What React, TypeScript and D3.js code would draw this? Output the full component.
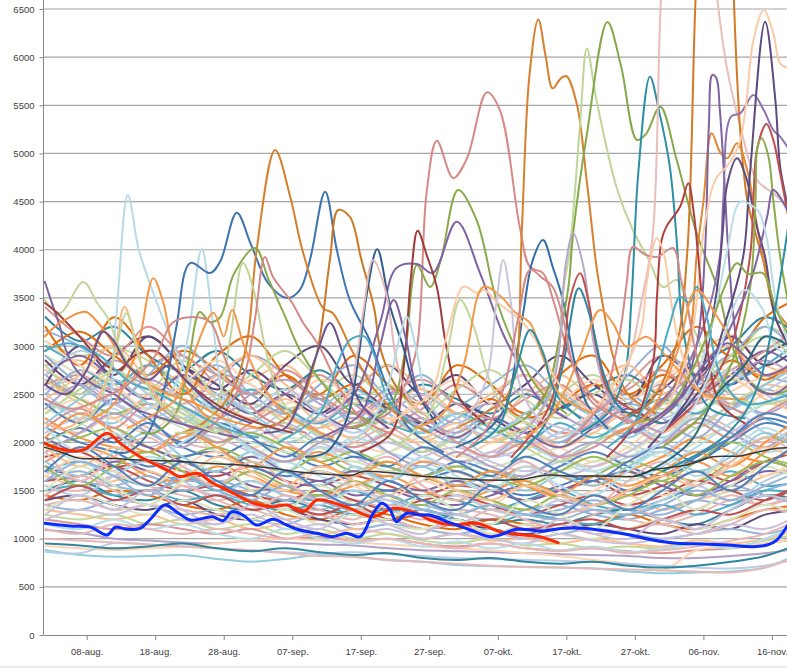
import { useEffect, useRef } from 'react'
import * as d3 from 'd3'

type Pt = [number, number]

// day numbers count from 1 = 01-aug.
const BASE = Date.UTC(2014, 7, 1)
const DAY_MS = 864e5
const toDate = (d: number) => new Date(BASE + (d - 1) * DAY_MS)

const Y_TICKS = [0, 500, 1000, 1500, 2000, 2500, 3000, 3500, 4000, 4500, 5000, 5500, 6000, 6500]
const X_TICK_DAYS = [8, 18, 28, 38, 48, 58, 68, 78, 88, 98, 108]
const X_TICK_LABELS = ['08-aug.', '18-aug.', '28-aug.', '07-sep.', '17-sep.', '27-sep.', '07-okt.', '17-okt.', '27-okt.', '06-nov.', '16-nov.']

// background band, one value every 5 days
const BG_DAYS = [2, 7, 12, 17, 22, 27, 32, 37, 42, 47, 52, 57, 62, 67, 72, 77, 82, 87, 92, 97, 102, 107, 112]
const BG_SERIES: number[][] = [
  [3160, 3000, 2750, 2600, 2500, 2700, 2600, 2300, 2200, 2450, 2300, 2100, 2250, 2400, 2200, 2000, 2300, 2500, 2300, 2600, 2900, 2700, 2600],
  [2800, 2850, 2700, 2950, 2700, 2500, 2650, 2800, 2500, 2300, 2400, 2550, 2300, 2200, 2500, 2700, 2450, 2300, 2600, 2900, 3100, 2800, 2700],
  [3050, 2900, 2980, 2850, 2600, 2400, 2550, 2350, 2500, 2700, 2400, 2200, 2300, 2100, 2300, 2500, 2700, 2400, 2200, 2500, 2800, 3200, 3000],
  [2600, 2700, 2550, 2800, 2900, 2600, 2300, 2500, 2700, 2400, 2200, 2350, 2600, 2400, 2300, 2100, 2200, 2600, 2900, 2700, 2400, 2600, 2800],
  [2700, 2500, 2850, 2600, 2400, 2650, 2900, 2700, 2400, 2300, 2550, 2400, 2200, 2450, 2700, 2400, 2200, 2100, 2400, 2700, 2500, 2300, 2500],
  [2400, 2300, 2200, 2450, 2300, 2100, 2250, 2000, 2150, 2300, 2050, 1900, 2100, 2250, 2000, 1850, 2000, 2200, 2050, 2300, 2450, 2250, 2100],
  [2300, 2450, 2250, 2100, 2350, 2200, 1950, 2100, 2250, 2000, 1900, 2050, 1850, 2000, 2150, 1950, 1800, 1950, 2200, 2050, 2200, 2500, 2400],
  [2500, 2300, 2400, 2200, 2050, 2250, 2100, 2300, 2050, 1950, 2100, 1900, 2050, 1850, 1950, 2100, 2250, 2000, 1900, 2150, 2350, 2100, 2000],
  [2200, 2100, 2300, 2150, 2000, 1950, 2150, 2000, 1850, 2000, 2150, 1950, 1800, 1900, 2050, 1850, 1750, 1900, 2100, 2300, 2150, 2000, 2200],
  [2350, 2200, 2050, 2250, 2150, 1900, 1850, 2050, 1950, 1800, 1900, 2050, 1900, 1750, 1850, 1950, 2100, 1950, 1850, 2000, 2200, 2400, 2300],
  [2100, 2250, 2150, 1950, 2100, 2050, 1900, 1800, 1950, 1850, 1700, 1850, 1950, 1800, 1700, 1800, 1950, 2150, 2000, 1900, 2100, 2300, 2200],
  [2450, 2250, 2350, 2100, 2250, 2000, 2100, 1900, 1850, 2050, 1900, 1800, 1700, 1850, 2000, 1800, 1700, 1850, 2000, 2200, 2100, 1900, 2000],
  [2000, 2150, 2000, 2200, 1950, 1850, 2000, 1900, 1750, 1850, 1750, 1650, 1800, 1700, 1600, 1750, 1900, 1750, 1650, 1800, 2000, 2200, 2100],
  [2250, 2050, 1950, 1900, 2050, 2150, 1950, 1800, 1900, 1750, 1650, 1800, 1700, 1600, 1750, 1650, 1550, 1700, 1850, 2050, 1900, 1800, 2000],
  [1950, 2050, 2150, 1950, 1850, 1950, 1800, 1700, 1850, 1700, 1800, 1650, 1550, 1700, 1600, 1500, 1650, 1800, 1700, 1600, 1800, 2050, 1950],
  [1850, 1900, 1750, 1800, 1700, 1650, 1750, 1600, 1550, 1650, 1550, 1450, 1550, 1500, 1400, 1500, 1600, 1450, 1550, 1700, 1600, 1800, 1900],
  [1750, 1650, 1800, 1700, 1600, 1700, 1550, 1500, 1600, 1450, 1500, 1400, 1350, 1450, 1550, 1400, 1350, 1500, 1600, 1450, 1550, 1700, 1650],
  [1700, 1800, 1650, 1550, 1650, 1500, 1600, 1450, 1400, 1500, 1350, 1450, 1400, 1300, 1400, 1500, 1350, 1300, 1400, 1550, 1700, 1550, 1600],
  [1650, 1550, 1600, 1700, 1550, 1450, 1500, 1550, 1400, 1350, 1450, 1300, 1250, 1350, 1300, 1250, 1350, 1450, 1300, 1400, 1500, 1650, 1750],
  [1600, 1700, 1550, 1500, 1600, 1550, 1400, 1350, 1450, 1400, 1300, 1350, 1250, 1200, 1300, 1350, 1250, 1200, 1300, 1400, 1350, 1500, 1600],
  [1550, 1500, 1650, 1550, 1450, 1400, 1450, 1350, 1300, 1400, 1300, 1200, 1300, 1250, 1150, 1250, 1300, 1200, 1150, 1250, 1400, 1350, 1450],
  [1500, 1600, 1450, 1400, 1500, 1350, 1300, 1400, 1300, 1250, 1200, 1300, 1200, 1150, 1200, 1150, 1250, 1300, 1200, 1150, 1300, 1450, 1400],
  [1450, 1400, 1500, 1450, 1350, 1300, 1400, 1250, 1200, 1300, 1250, 1150, 1100, 1200, 1150, 1100, 1150, 1250, 1150, 1100, 1200, 1300, 1350],
  [1400, 1450, 1350, 1300, 1400, 1250, 1200, 1300, 1200, 1150, 1200, 1100, 1150, 1100, 1050, 1100, 1150, 1100, 1050, 1150, 1100, 1250, 1300],
  [1350, 1300, 1400, 1350, 1250, 1300, 1200, 1150, 1250, 1100, 1150, 1100, 1050, 1100, 1000, 1050, 1100, 1050, 1000, 1050, 1100, 1050, 1150],
  [1300, 1250, 1200, 1250, 1150, 1200, 1100, 1150, 1050, 1100, 1050, 1000, 1050, 980, 1000, 950, 1000, 950, 920, 980, 950, 1000, 1100],
  [1250, 1200, 1250, 1150, 1200, 1100, 1150, 1050, 1100, 1000, 1050, 980, 950, 1000, 930, 950, 900, 920, 900, 950, 920, 980, 1050],
  [1200, 1150, 1100, 1150, 1100, 1050, 1100, 1000, 1020, 980, 1000, 950, 920, 950, 900, 880, 900, 870, 850, 880, 900, 950, 1000],
  [1090, 1060, 1000, 980, 960, 950, 980, 960, 940, 930, 900, 880, 870, 860, 850, 840, 830, 820, 800, 800, 820, 850, 900],
  [882, 830, 813, 820, 830, 790, 761, 790, 830, 810, 779, 760, 727, 715, 709, 700, 690, 660, 641, 650, 660, 700, 850],
  [924, 900, 882, 900, 917, 950, 986, 1000, 980, 960, 940, 920, 900, 880, 850, 820, 779, 740, 675, 880, 917, 950, 1000],
  [865, 850, 955, 940, 920, 900, 880, 860, 850, 860, 840, 820, 800, 790, 780, 770, 760, 740, 720, 700, 690, 720, 800],
  [1000, 980, 960, 940, 920, 900, 880, 850, 820, 813, 780, 760, 740, 720, 706, 700, 690, 680, 670, 660, 650, 700, 820],
  [2900, 2700, 2500, 2300, 2200, 2100, 2000, 1900, 1850, 1800, 1700, 1650, 1600, 1550, 1600, 1700, 1800, 1900, 2100, 2300, 2600, 2900, 3200],
  [2550, 2650, 2400, 2250, 2350, 2150, 2050, 2200, 2000, 1900, 2000, 1850, 1750, 1900, 1800, 1650, 1750, 1900, 2150, 2400, 2700, 2500, 2300],
  [1950, 1800, 1700, 1850, 1750, 1600, 1700, 1800, 1650, 1550, 1650, 1750, 1600, 1500, 1650, 1800, 1700, 1600, 1750, 1950, 2200, 2400, 2600],
  [2150, 2000, 1900, 1750, 1850, 1900, 1750, 1650, 1700, 1600, 1500, 1600, 1700, 1550, 1450, 1550, 1650, 1500, 1650, 1850, 2050, 2250, 2150],
  [1800, 1950, 1850, 1650, 1600, 1750, 1650, 1500, 1450, 1550, 1650, 1500, 1400, 1500, 1600, 1450, 1350, 1500, 1650, 1800, 1650, 1900, 2100],
  [2650, 2450, 2300, 2400, 2200, 2000, 2100, 1950, 1800, 1900, 1750, 1650, 1750, 1650, 1550, 1700, 1850, 1700, 1600, 1800, 2000, 1850, 1750],
  [1600, 1650, 1750, 1600, 1500, 1550, 1450, 1400, 1500, 1400, 1300, 1400, 1450, 1350, 1250, 1350, 1450, 1350, 1450, 1600, 1500, 1400, 1550],
  [2050, 1900, 2050, 1950, 1800, 1700, 1850, 1700, 1600, 1700, 1600, 1500, 1600, 1500, 1400, 1500, 1600, 1700, 1550, 1450, 1600, 1800, 1700],
  [1500, 1550, 1450, 1500, 1400, 1450, 1350, 1300, 1350, 1250, 1300, 1250, 1200, 1150, 1250, 1200, 1150, 1250, 1350, 1250, 1350, 1500, 1450],
  [2750, 2600, 2650, 2450, 2550, 2300, 2400, 2250, 2150, 2250, 2100, 2000, 2150, 2050, 1950, 2050, 2200, 2100, 2300, 2500, 2350, 2600, 2500],
  [1700, 1600, 1550, 1650, 1500, 1600, 1500, 1400, 1450, 1350, 1400, 1300, 1250, 1350, 1250, 1300, 1400, 1300, 1250, 1400, 1550, 1450, 1350],
  [1350, 1400, 1300, 1350, 1300, 1250, 1300, 1200, 1250, 1150, 1200, 1100, 1150, 1050, 1100, 1150, 1050, 1100, 1150, 1050, 1150, 1300, 1250],
  [3300, 3050, 3200, 2900, 2750, 2950, 2700, 2550, 2750, 2500, 2400, 2600, 2450, 2300, 2500, 2350, 2550, 2700, 2500, 2800, 3000, 3300, 3100],
  [2950, 3150, 2900, 2700, 2950, 2750, 2500, 2700, 2450, 2600, 2350, 2500, 2300, 2450, 2250, 2400, 2600, 2450, 2700, 2550, 2850, 2650, 2900],
  [2850, 2600, 2900, 3100, 2800, 2550, 2750, 2500, 2300, 2550, 2350, 2200, 2400, 2250, 2100, 2350, 2500, 2300, 2550, 2800, 2600, 2900, 3100],
  [2500, 2750, 2550, 2350, 2600, 2800, 2500, 2300, 2450, 2200, 2350, 2150, 2000, 2250, 2100, 2000, 2200, 2400, 2250, 2050, 2350, 2550, 2400],
  [2650, 2400, 2250, 2500, 2700, 2450, 2250, 2450, 2200, 2050, 2250, 2050, 2200, 2000, 2150, 1950, 2100, 2300, 2100, 2400, 2650, 2450, 2300],
  [2300, 2550, 2750, 2500, 2300, 2150, 2400, 2200, 2000, 2200, 2050, 1900, 2050, 2200, 1950, 1800, 2000, 2150, 2350, 2150, 2400, 2600, 2800],
  [2150, 2350, 2150, 2400, 2200, 2000, 2200, 2350, 2100, 1950, 2100, 2250, 2000, 1850, 2000, 1850, 1950, 2150, 2000, 2200, 2050, 2300, 2500],
  [1900, 2100, 2300, 2100, 1950, 2150, 1950, 1800, 2000, 2150, 1900, 1750, 1900, 1750, 1650, 1850, 2000, 1850, 2000, 2250, 2100, 1950, 2200],
  [1800, 1650, 1900, 2100, 1850, 1700, 1900, 1700, 1550, 1750, 1600, 1750, 1550, 1650, 1500, 1650, 1550, 1750, 1900, 1700, 1850, 2100, 1900],
  [1650, 1850, 1700, 1550, 1750, 1900, 1650, 1500, 1700, 1550, 1400, 1600, 1450, 1350, 1550, 1400, 1500, 1650, 1450, 1600, 1800, 1650, 1850],
  [1550, 1450, 1650, 1800, 1600, 1450, 1600, 1450, 1350, 1500, 1400, 1300, 1450, 1300, 1250, 1400, 1300, 1250, 1400, 1550, 1400, 1600, 1750],
  [1450, 1650, 1500, 1350, 1550, 1400, 1300, 1450, 1300, 1200, 1350, 1250, 1150, 1300, 1200, 1100, 1250, 1350, 1200, 1300, 1450, 1350, 1500],
  [1300, 1450, 1350, 1250, 1400, 1300, 1200, 1300, 1150, 1250, 1150, 1100, 1200, 1050, 1150, 1050, 1000, 1100, 1200, 1100, 1200, 1350, 1250],
  [1200, 1300, 1250, 1350, 1200, 1150, 1250, 1100, 1150, 1050, 1100, 1000, 1050, 1000, 950, 1050, 980, 950, 1000, 1050, 1150, 1100, 1250],
  [1150, 1100, 1200, 1100, 1150, 1050, 1000, 1100, 1000, 950, 1000, 920, 970, 900, 950, 880, 920, 860, 900, 950, 900, 1000, 1150],
  [2400, 2200, 2450, 2250, 2000, 2200, 2050, 1850, 2050, 1900, 1750, 1950, 1800, 1650, 1850, 1700, 1600, 1800, 1950, 1800, 2050, 2300, 2200],
  [2050, 2300, 2100, 1900, 2100, 1950, 1750, 1950, 1800, 1650, 1800, 1650, 1550, 1700, 1550, 1450, 1650, 1550, 1700, 1900, 1750, 2000, 2250],
  [1750, 1550, 1750, 1900, 1700, 1550, 1700, 1550, 1450, 1600, 1450, 1350, 1500, 1400, 1300, 1450, 1350, 1450, 1600, 1450, 1650, 1800, 1700],
  [1400, 1550, 1400, 1500, 1350, 1450, 1300, 1350, 1250, 1350, 1200, 1250, 1150, 1200, 1100, 1150, 1200, 1100, 1200, 1300, 1250, 1400, 1550],
  [2700, 2900, 2650, 2450, 2700, 2500, 2300, 2500, 2300, 2150, 2350, 2200, 2050, 2250, 2100, 1950, 2150, 2350, 2200, 2450, 2700, 2950, 2750],
  [3000, 2800, 2600, 2800, 2550, 2350, 2550, 2350, 2200, 2400, 2200, 2100, 2300, 2150, 2000, 2200, 2050, 2250, 2450, 2300, 2600, 2800, 3050],
  [1950, 1750, 1950, 1800, 1650, 1850, 1700, 1550, 1750, 1600, 1450, 1650, 1500, 1400, 1550, 1450, 1350, 1500, 1650, 1550, 1750, 1950, 1800],
  [1600, 1800, 1650, 1450, 1650, 1500, 1400, 1550, 1400, 1300, 1450, 1300, 1250, 1350, 1250, 1200, 1300, 1250, 1350, 1500, 1400, 1550, 1700],
  [1100, 1050, 1150, 1100, 1050, 1100, 1050, 1000, 1050, 980, 1000, 950, 900, 950, 900, 870, 900, 850, 880, 920, 980, 1050, 1200],
  [950, 930, 900, 920, 950, 900, 870, 900, 860, 830, 850, 800, 780, 800, 760, 740, 760, 720, 700, 720, 760, 820, 950],
  [3200, 2800, 3300, 2900, 2500, 2900, 3100, 2700, 2500, 2900, 2600, 2400, 2800, 2600, 2300, 2700, 2900, 2500, 2800, 3200, 2900, 3300, 3500],
  [2600, 3000, 2700, 3100, 2800, 2600, 2400, 2800, 3000, 2600, 2800, 2500, 2700, 2400, 2600, 2900, 2600, 2400, 2900, 2700, 3100, 2800, 3000],
  [2900, 2600, 2400, 2700, 3000, 2700, 2500, 2300, 2600, 2800, 2500, 2700, 2400, 2600, 2800, 2500, 2300, 2700, 3000, 2600, 2900, 3200, 2900],
  [2450, 2700, 3000, 2650, 2400, 2700, 2900, 2600, 2350, 2550, 2800, 2550, 2300, 2500, 2700, 2400, 2600, 2800, 2500, 2800, 3000, 2700, 2900],
  [2800, 2500, 2750, 2550, 2850, 2500, 2700, 2950, 2650, 2400, 2600, 2300, 2550, 2750, 2450, 2250, 2500, 2650, 2400, 2650, 2900, 3100, 2800],
  [3400, 3100, 2900, 3200, 2900, 2700, 2500, 2750, 2500, 2300, 2500, 2650, 2400, 2250, 2450, 2600, 2350, 2550, 2750, 2500, 2750, 2950, 3200],
  [2350, 2600, 2400, 2650, 2450, 2250, 2500, 2650, 2450, 2250, 2450, 2250, 2100, 2350, 2550, 2300, 2150, 2400, 2600, 2400, 2650, 2850, 2650],
  [2200, 2450, 2650, 2400, 2200, 2450, 2300, 2100, 2350, 2550, 2300, 2100, 2300, 2100, 2300, 2500, 2250, 2050, 2300, 2550, 2350, 2600, 2800],
  [3050, 2800, 2600, 2350, 2600, 2850, 2600, 2400, 2650, 2450, 2250, 2450, 2650, 2400, 2200, 2400, 2650, 2450, 2650, 2900, 2700, 2500, 2700],
  [2700, 2950, 2750, 2500, 2250, 2500, 2350, 2550, 2300, 2100, 2300, 2500, 2250, 2050, 2250, 2050, 2250, 2450, 2250, 2500, 2750, 2550, 2800],
  [1900, 1600, 1850, 2050, 1750, 1550, 1800, 1600, 1400, 1650, 1850, 1550, 1400, 1600, 1800, 1500, 1350, 1600, 1800, 1550, 1800, 2050, 1850],
  [1500, 1750, 1550, 1350, 1600, 1800, 1500, 1300, 1550, 1350, 1200, 1450, 1300, 1150, 1400, 1250, 1100, 1350, 1500, 1300, 1550, 1750, 1600],
  [1250, 1450, 1300, 1500, 1300, 1150, 1350, 1200, 1100, 1300, 1150, 1050, 1250, 1100, 1000, 1200, 1050, 1000, 1200, 1100, 1300, 1450, 1350],
  [2150, 1900, 2100, 1800, 2000, 2200, 1900, 1700, 1950, 1750, 1600, 1850, 1650, 1500, 1750, 1550, 1450, 1700, 1900, 1650, 1900, 2150, 1950],
  [1700, 1950, 1750, 1550, 1800, 1600, 1450, 1700, 1500, 1350, 1600, 1400, 1300, 1550, 1350, 1250, 1450, 1300, 1500, 1700, 1500, 1750, 2000],
]
const BG_COLORS = [
  '#95B3D7', '#FAC090', '#C3D69B', '#D99694', '#B3A2C7', '#93CDDD',
  '#FCD5B5', '#B9CDE5', '#E6B9B8', '#D7E4BD', '#CCC1DA', '#B7DEE8',
  '#4F81BD', '#F79646', '#9BBB59', '#C0504D', '#8064A2', '#4BACC6',
  '#FAC090', '#95B3D7', '#E6B9B8', '#31859C', '#E46C0A', '#604A7B',
]

// the stretches that stick out of the band: [colour, [day, value] keypoints]
const PEAK_SERIES: [string, Pt[]][] = [
  ['#B7DAE6', [[8, 1900], [10.5, 2100], [12.3, 3300], [14, 4568], [15.6, 4000], [17.2, 3655], [20.2, 3094], [23, 2650], [26, 2350], [30, 2150]]],
  ['#B7DAE6', [[16, 2300], [19, 2450], [21, 2600], [22.8, 3100], [24.8, 4008], [26.3, 3300], [27.8, 2500], [30, 2050], [34, 1850]]],
  ['#C3D69B', [[1.9, 3478], [4.1, 3343], [7.5, 3665], [9.5, 3450], [11, 3302], [13, 2950], [16, 2650], [20, 2450], [24, 2250], [28, 2100]]],
  ['#F79646', [[9, 2250], [12, 2400], [14.3, 2750], [15.8, 3097], [17.7, 3703], [19.2, 3447], [20.2, 3094], [22, 2650], [25, 2300], [29, 2100]]],
  ['#3E74B0', [[12, 1900], [14, 1900], [17, 2100], [19.5, 2600], [21.1, 3200], [23.1, 3862], [26, 3758], [27.5, 3880], [29.9, 4385], [32, 4050], [34.5, 3650], [37.2, 3499], [39.1, 3582], [40.6, 3900], [42.8, 4603], [44.5, 4000], [46.4, 3478], [49.3, 3063], [52, 2550], [55, 2150], [60, 1900]]],
  ['#D6802E', [[22, 2100], [25, 2200], [29, 2500], [31.3, 3000], [32.8, 3997], [35.5, 5036], [37.7, 4551], [39.6, 3966], [42.5, 3395], [43.9, 3343], [46.9, 2928], [50, 2550], [54, 2250], [58, 2100]]],
  ['#C97824', [[33, 2150], [36, 2200], [39, 2400], [41.6, 2928], [43.5, 3900], [44.7, 4413], [46.4, 4343], [48.1, 3893], [50, 3374], [50.8, 2990], [53, 2600], [57, 2300]]],
  ['#8BAA4B', [[16, 2100], [18, 2100], [21, 2300], [23, 2900], [24.5, 3354], [26, 3250], [27.5, 3302], [29.5, 3750], [32.6, 4018], [34.5, 3700], [37, 3300], [39.1, 2959], [42, 2650], [46, 2350], [50, 2200]]],
  ['#BFD59A', [[21, 2100], [25, 2150], [27.3, 2450], [29, 3100], [30.8, 3862], [32.3, 3600], [34, 3000], [36, 2500], [39, 2200], [43, 2050]]],
  ['#D58A88', [[25, 2100], [28, 2300], [31, 2700], [32.6, 3302], [34, 3925], [35.2, 3717], [38, 3447], [39.6, 3240], [41, 3100], [42, 2990], [45, 2550], [48, 2250], [52, 2100]]],
  ['#D58A88', [[46, 2150], [52, 2300], [54.5, 2600], [56.2, 2990], [57.6, 4589], [59.1, 5132], [61.5, 4745], [63.5, 4950], [66.4, 5635], [68.3, 5451], [71.2, 4236], [72.7, 3821], [74.6, 3758], [76.2, 3450], [78.5, 2900], [82, 2450], [87, 2200]]],
  ['#8BAA4B', [[47, 2150], [49, 2200], [52.5, 2400], [54.5, 2959], [56.2, 3842], [58.1, 3613], [59.7, 3900], [62.2, 4620], [64.9, 4309], [67.8, 3478], [70.7, 2959], [74, 2550], [78, 2300]]],
  ['#7E63A1', [[43, 2300], [47, 2500], [50.8, 3240], [53.2, 3811], [56.2, 3852], [58.5, 3758], [62, 4291], [65.4, 3758], [68.7, 3136], [70.7, 2855], [74, 2450], [78, 2250]]],
  ['#9E3B3A', [[48, 1900], [52.5, 2100], [54.3, 2800], [55.3, 3700], [56.3, 4198], [57.6, 3950], [59.1, 3613], [60.5, 2990], [62.5, 2450], [66, 2200]]],
  ['#2E5E8E', [[40, 1850], [43, 1900], [46, 2250], [47.7, 2900], [48.9, 3551], [50.4, 4005], [52.3, 3405], [54.2, 2990], [56, 2550], [59, 2200]]],
  ['#E6B9B8', [[40, 2200], [43, 2250], [46.2, 2500], [47.5, 2928], [48.4, 3374], [49.8, 3893], [51.7, 3551], [53.2, 2855], [55, 2450], [58, 2250]]],
  ['#2F6EA6', [[62, 1950], [66, 2100], [69, 2350], [70.5, 2800], [71.7, 3343], [73.1, 3893], [74.6, 4101], [76, 3824], [77.5, 3478], [79, 2900], [81, 2400], [84, 2150]]],
  ['#D6802E', [[62, 2150], [66, 2300], [69, 2450], [70.5, 2700], [71.5, 4200], [72.6, 5800], [73.9, 6392], [75, 6000], [76, 5676], [77.2, 5780], [78, 5804], [79.5, 5521], [81, 4700], [82.4, 3824], [83.2, 3478], [84.8, 2900], [87, 2500], [91, 2300]]],
  ['#BFD59A', [[68, 2000], [72, 2150], [75, 2400], [76.8, 2900], [77.5, 3551], [78.5, 3997], [80, 5300], [81, 6091], [82.4, 5555], [85.3, 4655], [87.7, 4205], [90, 3900], [92.1, 3613], [94.1, 3686], [96.5, 3200], [99, 2800], [102, 2500], [106, 2400], [110.5, 2450]]],
  ['#86A84A', [[68, 2100], [72, 2250], [75, 2500], [77, 3100], [78.3, 3613], [79, 4174], [81, 5200], [84, 6365], [86, 5900], [88.3, 5140], [89.6, 5200], [91.7, 5485], [94.1, 4932], [97, 4174], [100, 3613], [102, 3050], [104.5, 2650], [108, 2500], [110.5, 2550]]],
  ['#2D8FA5', [[80, 2100], [84, 2300], [86.5, 2700], [87.5, 3478], [88.5, 4800], [90.2, 5797], [91.5, 5450], [93.1, 4863], [94.2, 4000], [94.8, 3300], [96.5, 2700], [99, 2350], [104, 2250]]],
  ['#E8BDBB', [[80, 2200], [84, 2450], [86.5, 2700], [89, 3478], [90.6, 4150], [91.8, 6600], [93.5, 8500], [96, 9000], [99.5, 6900], [101.4, 5901], [103.4, 5278], [105.8, 4724], [108.2, 4586], [110.5, 4440]]],
  ['#D27A25', [[86, 2250], [90, 2400], [94, 3000], [95.6, 3928], [96.8, 6500], [98, 8500], [100, 9500], [102, 8000], [102.4, 6700], [103.4, 5209], [104.4, 4517], [105.6, 4171], [106.7, 3893], [108.5, 3300], [110.5, 3000]]],
  ['#E08A35', [[88, 2200], [93, 2500], [96, 3100], [97, 3928], [98, 4500], [99.2, 5209], [100.5, 5005], [101.5, 4950], [102.9, 5105], [104.5, 4797], [105.6, 4343], [106.8, 3893], [108.5, 3400], [110.5, 3200]]],
  ['#7E63A1', [[88, 2100], [94, 2400], [97, 3000], [98.2, 3928], [98.8, 5300], [99.3, 5815], [99.9, 5780], [100.4, 5451], [101, 4797], [101.7, 3928], [103, 3000], [105, 2600], [108, 2500], [110.5, 2600]]],
  ['#8E72B0', [[88, 2200], [94, 2600], [98, 3200], [100.4, 3928], [100.9, 4517], [102, 5381], [103.4, 5419], [105.3, 5607], [106.8, 5451], [108.2, 5243], [109.2, 5174], [110.5, 5040]]],
  ['#5D4A7E', [[92, 2100], [98, 2600], [101, 3200], [103.8, 3928], [104.8, 4794], [107, 6368], [108.5, 5555], [109.2, 4863], [110.5, 4400]]],
  ['#5D4A7E', [[90, 1950], [97, 2600], [99.8, 3500], [100.8, 4171], [101.4, 4655], [102.9, 4950], [104.2, 4759], [105.8, 4240], [107, 3928], [108.5, 3300], [110.5, 3000]]],
  ['#C0504D', [[92, 2100], [98, 2500], [102, 3000], [104.8, 3928], [105.3, 4517], [105.8, 5036], [107.2, 5306], [108.2, 5140], [109.2, 4794], [110.5, 4300]]],
  ['#8BAA4B', [[92, 1950], [98, 2300], [102, 2800], [104.8, 3600], [105.6, 4517], [105.9, 5070], [106.5, 5157], [107.5, 4966], [108.2, 4517], [109.2, 3928], [110.5, 3400]]],
  ['#8064A2', [[92, 2300], [98, 2700], [102, 3200], [105, 3700], [107.3, 4343], [108.2, 4620], [110.5, 4378]]],
  ['#BCDDE8', [[92, 2100], [97, 2700], [99.5, 3300], [101.4, 3966], [103.4, 4499], [105.3, 4447], [106.2, 4381], [107.3, 4101], [108.5, 3500], [110.5, 3000]]],
  ['#FBCBA8', [[90, 2200], [92, 2300], [96, 3000], [98, 4174], [99.2, 4620], [100, 4759], [101.4, 4863], [102.4, 4966], [103.4, 5140], [104.3, 5555], [105.3, 6178], [106.8, 6489], [108.2, 6247], [109.2, 5936], [110.5, 5884]]],
  ['#B03F3C', [[84, 1850], [88, 2200], [90.7, 2855], [91.2, 3478], [91.9, 4101], [92.6, 4240], [94.6, 4447], [95.8, 4690], [96.6, 4378], [97.3, 3893], [98.5, 3000], [100.5, 2400], [104, 2200]]],
  ['#D58A88', [[78, 2000], [83, 2400], [85.8, 3134], [86.8, 3652], [87.7, 4029], [89.5, 3950], [91.2, 3925], [93.6, 4018], [94.7, 3700], [95.5, 3478], [97, 2900], [99, 2500], [104, 2300]]],
  ['#FBCBA8', [[80, 2200], [84, 2500], [88.8, 3136], [89.7, 3652], [91.2, 4119], [92.2, 3966], [93.1, 3551], [94.1, 3136], [96, 2700], [99, 2450], [104, 2600], [110.5, 2800]]],
  ['#B6A7CB', [[68, 1900], [73, 2200], [76, 2600], [77.1, 3063], [77.5, 3551], [78, 3893], [79, 4171], [80.5, 3824], [81.2, 3478], [81.9, 3063], [83.5, 2600], [86, 2300], [92, 2100]]],
  ['#C0504D', [[70, 1850], [75, 2300], [77.5, 2900], [78.5, 3478], [80, 3756], [81.2, 3478], [82.5, 2950], [84.5, 2500], [90, 2250]]],
  ['#31859C', [[70, 1800], [75, 2200], [77.5, 2800], [79.8, 3600], [81.5, 3300], [83.5, 2700], [86, 2350], [92, 2200]]],
  ['#8BAA4B', [[88, 2200], [92, 2300], [96, 2700], [99, 3200], [101, 3600], [102.9, 3859], [104.5, 3750], [106.7, 3756], [108.5, 3400], [110.5, 3100]]],
  ['#7E63A1', [[1.9, 3668], [3.1, 3409], [4.1, 3201], [4.8, 2993], [6.5, 2750], [9, 2600], [12, 2500], [15, 2350], [19, 2250], [24, 2150], [30, 2050]]],
  ['#A0403D', [[1.9, 3447], [3.5, 3357], [7, 3097], [9, 2928], [10.4, 2824], [12.5, 2750], [15, 2900], [18, 2950], [21, 2750], [24, 2550], [28, 2350], [33, 2200], [38, 2100]]],
  ['#F0923F', [[1.9, 3100], [4.1, 3240], [7.8, 3357], [9.3, 3270], [11.2, 3097], [13, 2900], [16, 2650], [20, 2500], [24, 2400], [28, 2250], [33, 2150]]],
  ['#4BACC6', [[1.9, 2950], [5.2, 3029], [7.7, 2980], [10.1, 2890], [12.7, 2720], [14.6, 2612], [17, 2550], [20, 2450], [24, 2300], [28, 2150], [33, 2050]]],
  ['#FAB98A', [[1.9, 2200], [5, 2150], [8, 2300], [11.5, 2751], [13.5, 3409], [15, 3097], [16.3, 2751], [19, 2400], [22, 2250], [27, 2100]]],
  ['#C3D69B', [[1.9, 2000], [5, 2100], [9, 2300], [12, 2900], [13.8, 3340], [15.5, 2900], [18, 2450], [22, 2250], [27, 2100]]],
  ['#F39A4A', [[14, 2150], [18, 2300], [21, 2450], [23, 2800], [26.5, 3347], [28, 3100], [29.2, 3374], [31, 3000], [34, 2550], [38, 2250], [44, 2050]]],
  ['#D28C8A', [[1.9, 2450], [6, 2350], [10, 2450], [14, 2600], [18, 2900], [20.5, 3240], [23, 3300], [26, 3250], [28, 2900], [30.5, 2500], [34, 2250], [40, 2100]]],
  ['#6A5590', [[1.9, 2600], [5, 2500], [8, 2750], [10.4, 3149], [12, 3050], [14, 2800], [17, 2650], [20, 2800], [23, 2600], [27, 2350], [32, 2200]]],
  ['#6A5590', [[34, 2100], [37, 2150], [39.5, 2500], [41.5, 2900], [43.5, 3240], [45.5, 2900], [48, 2400], [52, 2150]]],
  ['#4BACC6', [[36, 2000], [42, 2300], [44.5, 2800], [46.4, 3063], [48.5, 3100], [50, 2900], [52, 2450], [56, 2150]]],
  ['#8064A2', [[42, 2050], [48, 2300], [50.8, 3000], [52.8, 3478], [54.5, 3100], [56.5, 2500], [60, 2200]]],
  ['#B7DAE6', [[45, 1950], [49, 2150], [52, 2600], [53.7, 3100], [54.7, 3305], [56, 3000], [57.5, 2500], [60, 2200]]],
  ['#FBCBA8', [[52, 2200], [58, 2500], [60.5, 3100], [63, 3617], [65, 3550], [66, 3582], [68, 3450], [71.7, 3240], [74, 3000], [77, 2600], [82, 2300]]],
  ['#C3D69B', [[54, 2000], [58, 2300], [60.5, 2900], [62.5, 3478], [64.5, 3200], [66.5, 2700], [69, 2350], [74, 2150]]],
  ['#F39A4A', [[56, 2150], [60, 2300], [63, 2800], [65.9, 3616], [68.5, 3512], [70.5, 3350], [72.7, 3240], [74.5, 2900], [77, 2500], [82, 2300]]],
  ['#CCC5DA', [[60, 2050], [64, 2300], [66.5, 2700], [67.7, 3400], [68.8, 3893], [70, 3400], [71.2, 2600], [74, 2250], [80, 2100]]],
  ['#2D8FA5', [[64, 1950], [68, 2150], [70.5, 2700], [72.7, 3167], [74.5, 2950], [76.5, 2500], [80, 2250]]],
  ['#F39A4A', [[72, 2050], [76, 2300], [80, 2900], [82.9, 3374], [84.8, 3236], [86.8, 2993], [89.7, 3097], [92.6, 2890], [95, 2700], [98, 2500], [104, 2450]]],
  ['#D58A88', [[62, 1850], [66, 2100], [69, 2600], [71, 3300], [72.7, 3790], [74.6, 3700], [76, 3616], [77.5, 3300], [79, 2800], [82, 2400], [88, 2200]]],
  ['#4BACC6', [[84, 1950], [88, 2200], [91, 2700], [93, 3200], [94.6, 3512], [96, 3450], [97, 3616], [98.5, 3300], [100.5, 2700], [104, 2400], [110.5, 2500]]],
  ['#F79646', [[84, 2050], [90, 2300], [94, 2900], [97, 3582], [100, 3305], [103, 2950], [106, 2700], [110.5, 2750]]],
  ['#8064A2', [[86, 2050], [90, 2200], [95, 2500], [98, 2800], [101.5, 3029], [104, 2900], [107, 2700], [110.5, 2800]]],
  ['#BCDDE8', [[88, 1800], [90, 1900], [96, 2300], [100, 2900], [104, 3582], [106.5, 3400], [108.5, 3000], [110.5, 2900]]],
  ['#276A7C', [[88, 1650], [90, 1700], [96, 2000], [100, 2500], [104, 2800], [107, 3100], [110.5, 3000]]],
  ['#2D8FA5', [[92, 1700], [100, 2000], [104, 2300], [106.5, 2700], [108.5, 3400], [110.5, 4300]]],
]

const AVERAGE_LINE: Pt[] = [[1.9, 1948], [4.1, 1903], [7, 1834], [11, 1834], [15.8, 1817], [20.6, 1807], [25.5, 1783], [30.4, 1765], [35.2, 1731], [38.6, 1696], [42.5, 1672], [46.9, 1661], [48.1, 1696], [52.3, 1685], [56.7, 1651], [61.5, 1627], [66.4, 1609], [71.3, 1616], [75.2, 1661], [78.6, 1651], [83.4, 1651], [88.3, 1651], [90.6, 1713], [95.5, 1765], [99.4, 1851], [103.4, 1858], [105.3, 1890], [108.7, 1938], [110.5, 1945]]
const RED_LINE: Pt[] = [[1.9, 1990], [4.1, 1931], [7.5, 1921], [11, 2094], [12.9, 1990], [15.8, 1851], [17.2, 1799], [20.2, 1696], [21.6, 1644], [24.1, 1679], [26.4, 1578], [29.4, 1474], [32.3, 1370], [35.2, 1332], [37.2, 1350], [39.6, 1280], [41.6, 1402], [43.5, 1384], [46.4, 1315], [49.8, 1228], [52.7, 1315], [54.7, 1298], [56.7, 1246], [58.1, 1194], [61.5, 1142], [64.9, 1160], [68.3, 1073], [71.7, 1038], [74.1, 1021], [76.8, 958]]
const BLUE_LINE: Pt[] = [[1.9, 1160], [5.6, 1132], [8.5, 1121], [11, 1038], [12.2, 1121], [13.9, 1097], [15.8, 1108], [17.2, 1194], [19.4, 1350], [21.1, 1280], [23.1, 1194], [25, 1211], [26.4, 1228], [27.9, 1187], [29.2, 1280], [30.8, 1246], [32.8, 1142], [35.2, 1201], [37.2, 1142], [39.1, 1090], [41.6, 1056], [43.9, 1021], [45.9, 1056], [47.9, 1021], [49.8, 1264], [51.1, 1367], [52.3, 1298], [53.2, 1176], [54.7, 1264], [56.7, 1246], [58.1, 1246], [61, 1166], [64, 1090], [66.9, 1021], [68.3, 1038], [70.7, 1097], [74.6, 1080], [77.5, 1108], [80.4, 1108], [84.4, 1073], [87.3, 1038], [90.6, 986], [94.1, 952], [98, 945], [101.5, 934], [105.3, 917], [107.3, 934], [108.7, 986], [110.5, 1160]]

const FONT = '"Liberation Sans", Arial, sans-serif'

export default function App() {
  const svgRef = useRef<SVGSVGElement>(null)

  useEffect(() => {
    if (!svgRef.current) return
    const svg = d3.select(svgRef.current)
    svg.selectAll('*').remove()

    const x = d3.scaleUtc().domain([toDate(1.7), toDate(110.2)]).range([43.5, 787])
    const y = d3.scaleLinear().domain([0, 6500]).range([635, 9])

    // horizontal grid
    svg.append('g').selectAll('line').data(Y_TICKS.slice(1)).join('line')
      .attr('x1', 43.5).attr('x2', 787)
      .attr('y1', d => y(d)).attr('y2', d => y(d))
      .attr('stroke', '#A6A6A6').attr('stroke-width', 1.2)

    const line = d3.line<Pt>()
      .x(p => x(toDate(p[0])))
      .y(p => y(p[1]))
      .curve(d3.curveCatmullRom.alpha(0.5))

    const lines = svg.append('g').attr('fill', 'none').attr('stroke-linejoin', 'round').attr('stroke-linecap', 'round')
    const draw = (pts: Pt[], color: string, width: number) =>
      lines.append('path').attr('d', line(pts)).attr('stroke', color).attr('stroke-width', width)

    BG_SERIES.forEach((vals, i) => draw(vals.map((v, j) => [BG_DAYS[j], v] as Pt), BG_COLORS[i % BG_COLORS.length], 2))
    PEAK_SERIES.forEach(([color, pts]) => draw(pts, color, 2))
    draw(AVERAGE_LINE, '#383838', 1.5)
    draw(RED_LINE, '#FF2A00', 3)
    draw(BLUE_LINE, '#0A2DFF', 3)

    // axes
    const yAxis = svg.append('g').attr('transform', 'translate(43.5,0)')
      .call(d3.axisLeft(y).tickValues(Y_TICKS).tickFormat(d3.format('d'))
        .tickSize(4).tickSizeOuter(0).tickPadding(5))
    yAxis.select('.domain').remove()
    yAxis.selectAll('line').attr('stroke', '#868686')
    yAxis.selectAll('text').attr('fill', '#404040').style('font', `9.5px ${FONT}`)
    svg.append('line').attr('x1', 43.5).attr('x2', 43.5).attr('y1', 0).attr('y2', 635)
      .attr('stroke', '#868686')

    const xAxis = svg.append('g').attr('transform', 'translate(0,635)')
      .call(d3.axisBottom(x)
        .tickValues(X_TICK_DAYS.map(toDate))
        .tickFormat((_, i) => X_TICK_LABELS[i])
        .tickSize(5).tickSizeOuter(0).tickPadding(8))
    xAxis.select('.domain').attr('stroke', '#868686')
    xAxis.selectAll('line').attr('stroke', '#868686')
    xAxis.selectAll('text').attr('fill', '#404040').style('font', `9.5px ${FONT}`)

    svg.append('line').attr('x1', 0).attr('x2', 787).attr('y1', 667).attr('y2', 667)
      .attr('stroke', '#D9D9D9')
  }, [])

  return (
    <svg ref={svgRef} width={787} height={668}
      style={{ position: 'absolute', left: 0, top: 0, background: '#fff' }} />
  )
}
